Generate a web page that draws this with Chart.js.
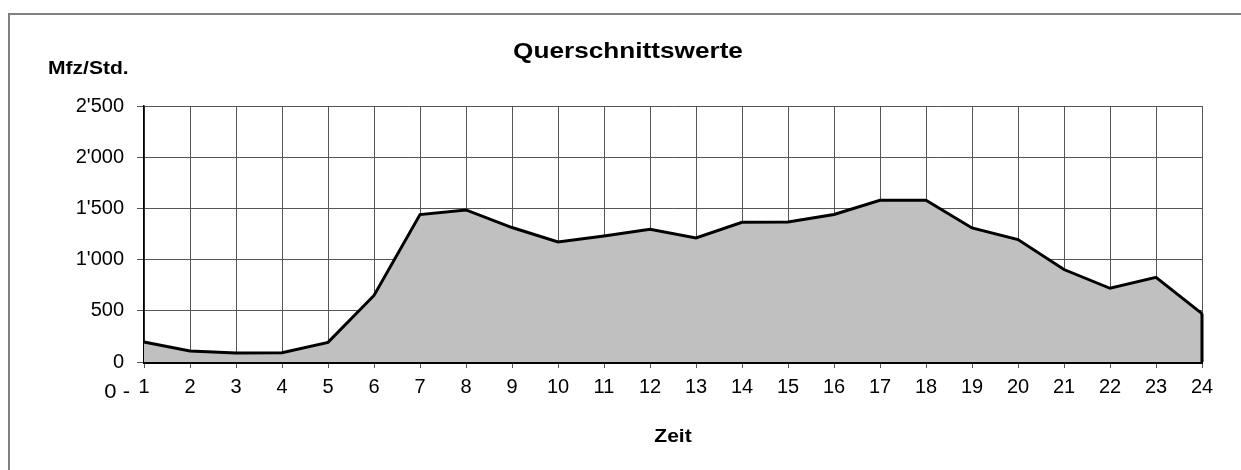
<!DOCTYPE html>
<html lang="de">
<head>
<meta charset="UTF-8">
<title>Querschnittswerte</title>
<style>
    html, body { margin: 0; padding: 0; background: #fff; }
    .wrap { position: relative; width: 1241px; height: 470px; overflow: hidden; }
    .frame { position: absolute; left: 8px; top: 13px; width: 1300px; height: 500px;
             border-left: 2px solid #808080; border-top: 2px solid #808080; }
    canvas { position: absolute; left: 0; top: 0; }
</style>
</head>
<body>
<div class="wrap">
    <div class="frame"></div>
    <canvas id="myChart" width="1241" height="470"></canvas>
</div>

<script src="https://cdn.jsdelivr.net/npm/chart.js"></script>
<script>
    // Stunden 1..24
    const hours = ['1', '2', '3', '4', '5', '6', '7', '8', '9', '10', '11', '12',
        '13', '14', '15', '16', '17', '18', '19', '20', '21', '22', '23', '24'];
    // Querschnittswerte Mfz/Std.
    const volumes = [195, 107, 88, 90, 192, 650, 1440, 1485, 1313, 1172, 1231, 1296,
        1211, 1365, 1368, 1440, 1580, 1580, 1309, 1196, 903, 720, 827, 473];
    const yTickLabels = ['0', '500', "1'000", "1'500", "2'000", "2'500"];

    const titleText = 'Querschnittswerte';
    const yTitle = 'Mfz/Std.';
    const xTitle = 'Zeit';
    const xPrefix = '0 -';

    const FONT = "'Liberation Sans', Arial, sans-serif";

    // Text etwas in die Breite gezogen, wie im Excel-Original
    function wideText(ctx, text, x, y, align, sx) {
        ctx.save();
        ctx.translate(x, y);
        ctx.scale(sx, 1);
        ctx.textAlign = align;
        ctx.fillText(text, 0, 0);
        ctx.restore();
    }

    const texts = {
        id: 'texts',
        afterDatasetsDraw(chart) {
            const { ctx, scales: { x, y } } = chart;
            // rechter Rand der Fläche
            const last = volumes.length - 1;
            ctx.save();
            ctx.strokeStyle = '#000';
            ctx.lineWidth = 3;
            ctx.beginPath();
            ctx.moveTo(x.getPixelForValue(last), y.getPixelForValue(volumes[last]));
            ctx.lineTo(x.getPixelForValue(last), y.getPixelForValue(0));
            ctx.stroke();
            ctx.restore();
        },
        afterDraw(chart) {
            const { ctx, chartArea: { left, right, bottom } } = chart;
            ctx.save();
            ctx.fillStyle = '#000';
            ctx.textBaseline = 'alphabetic';

            ctx.font = 'bold 22px ' + FONT;
            wideText(ctx, titleText, 628, 58, 'center', 1.19);

            ctx.font = 'bold 18px ' + FONT;
            wideText(ctx, yTitle, 48, 74, 'left', 1.17);
            wideText(ctx, xTitle, (left + right) / 2, 442, 'center', 1.17);

            ctx.font = '20px ' + FONT;
            wideText(ctx, xPrefix, left - 14, bottom + 36, 'right', 1.1);
            ctx.restore();
        }
    };

    new Chart(document.getElementById('myChart'), {
        type: 'line',
        data: {
            labels: hours,
            datasets: [{
                data: volumes,
                borderColor: '#000',
                borderWidth: 3,
                backgroundColor: '#c0c0c0',
                fill: 'origin',
                tension: 0,
                pointRadius: 0,
            }]
        },
        plugins: [texts],
        options: {
            responsive: false,
            animation: false,
            layout: { padding: { top: 106, right: 39, left: 0, bottom: 0 } },
            plugins: {
                legend: { display: false },
                title: { display: false },
                tooltip: { enabled: false }
            },
            scales: {
                x: {
                    offset: false,
                    afterFit(scale) { scale.height = 108; },
                    grid: { color: '#555', lineWidth: 1, tickLength: 6, tickColor: '#555' },
                    border: { color: '#000', width: 3 },
                    ticks: {
                        color: '#000', font: { family: FONT, size: 20 },
                        padding: 7, maxRotation: 0, autoSkip: false
                    }
                },
                y: {
                    min: 0,
                    max: 2500,
                    afterFit(scale) { scale.width = 144; },
                    grid: { color: '#555', lineWidth: 1, tickLength: 7, tickColor: '#555' },
                    border: { color: '#000', width: 1.5 },
                    ticks: {
                        stepSize: 500,
                        color: '#000', font: { family: FONT, size: 20 },
                        padding: 13,
                        callback: (v, i) => yTickLabels[i]
                    }
                }
            }
        }
    });
</script>
</body>
</html>
